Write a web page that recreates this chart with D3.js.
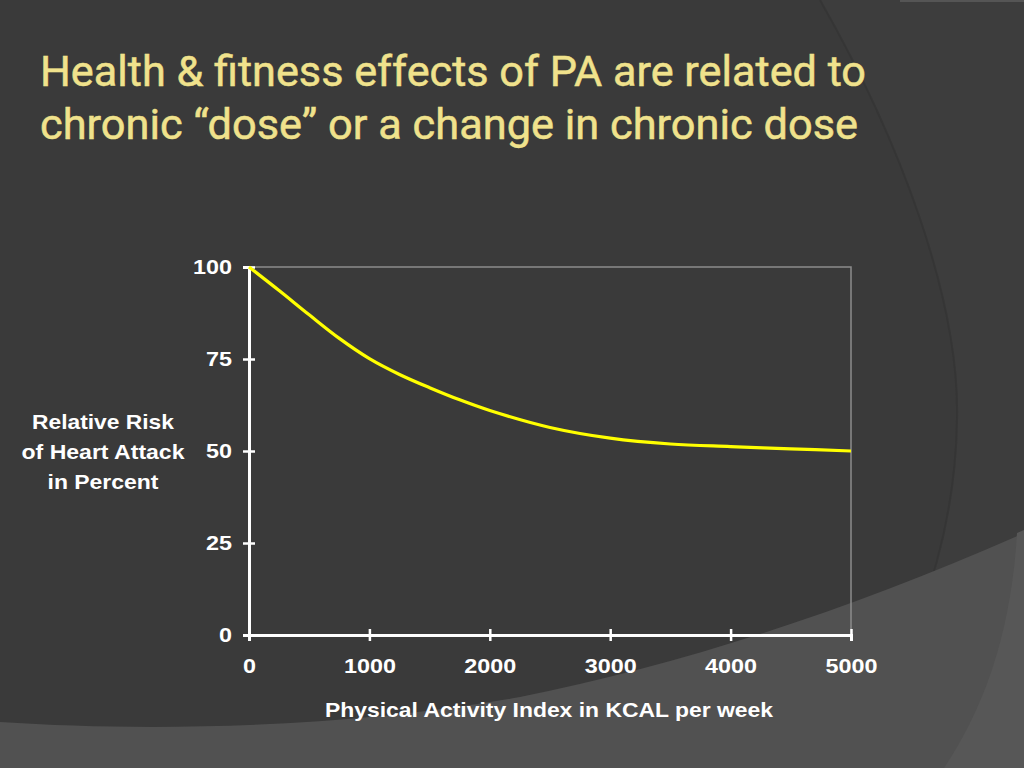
<!DOCTYPE html>
<html><head><meta charset="utf-8">
<script src="https://cdn.jsdelivr.net/npm/d3@7"></script>
<style>html,body{margin:0;padding:0;background:#3a3a3a;overflow:hidden}</style>
</head><body>
<svg id="c" width="1024" height="768"></svg>
<script>
const titleLines = ["Health & fitness effects of PA are related to", "chronic \u201cdose\u201d or a change in chronic dose"];
const yTitleLines = ["Relative Risk", "of Heart Attack", "in Percent"];
const xTitle = "Physical Activity Index in KCAL per week";
const kcal = [0, 250, 500, 750, 1000, 1250, 1500, 1750, 2000, 2500, 3000, 3500, 4000, 4500, 5000];
const risk = [100, 93.6, 87.0, 80.6, 75.1, 70.8, 67.2, 63.9, 61.0, 56.4, 53.5, 51.9, 51.2, 50.6, 50];
const xTicks = [0, 1000, 2000, 3000, 4000, 5000];
const yTicks = [0, 25, 50, 75, 100];

const svg = d3.select("#c");
// background decoration
svg.append("rect").attr("width",1024).attr("height",768).attr("fill","#3a3a3a");
svg.append("path").attr("d","M820,0 C900,140 960,300 957,420 C955,560 900,680 840,768 L1024,768 L1024,0 Z").attr("fill","#3d3d3d");
svg.append("path").attr("d","M820,0 C900,140 960,300 957,420 C955,560 900,680 840,768").attr("fill","none").attr("stroke","#333").attr("stroke-width",2).attr("opacity",0.7);
svg.append("path").attr("d","M0,722 C150,732 350,728 520,697 C680,665 850,610 1024,533 L1024,768 L0,768 Z").attr("fill","#515151");
svg.append("path").attr("d","M944,768 C990,700 1012,620 1017,533 L1024,530 L1024,768 Z").attr("fill","#575757");
svg.append("line").attr("x1",900).attr("x2",1024).attr("y1",1).attr("y2",1).attr("stroke","#555").attr("stroke-width",2);

// title
const title = svg.append("g");
titleLines.forEach((t,i)=>{
  title.append("text").attr("x",40).attr("y",86+i*53)
    .attr("font-family","Roboto, 'Liberation Sans', Arial, sans-serif").attr("font-size",43).attr("font-weight",400)
    .attr("fill","#f0e28c").attr("stroke","#f0e28c").attr("stroke-width",0.5)
    .attr("textLength", i===0?826:818).attr("lengthAdjust","spacingAndGlyphs")
    .text(t);
});

const x = d3.scaleLinear().domain([0,5000]).range([249,851]);
const y = d3.scaleLinear().domain([0,100]).range([635,267]);

// plot frame top/right
svg.append("path").attr("d",`M${x(0)},${y(100)}H${x(5000)}V${y(0)}`).attr("fill","none").attr("stroke","#8c8c8c").attr("stroke-width",1.5);

const font = "'Liberation Sans', Arial, sans-serif";
const xAxis = svg.append("g").attr("transform",`translate(0,${y(0)})`)
  .call(d3.axisBottom(x).tickValues(xTicks).tickSize(6).tickPadding(17).tickFormat(d3.format("d")));
const yAxis = svg.append("g").attr("transform",`translate(${x(0)},0)`)
  .call(d3.axisLeft(y).tickValues(yTicks).tickSize(6).tickPadding(11).tickFormat(d3.format("d")));
[xAxis,yAxis].forEach(a=>{
  a.select(".domain").attr("stroke","#fff").attr("stroke-width",3);
  a.selectAll(".tick line").attr("stroke","#fff").attr("stroke-width",2.5);
  a.selectAll(".tick text").attr("fill","#fff").attr("font-family",font).attr("font-weight","bold").attr("font-size",21)
    .attr("textLength",function(){return this.textContent.length*13;}).attr("lengthAdjust","spacingAndGlyphs");
});
xAxis.selectAll(".tick line").attr("y1",-6).attr("y2",6);
yAxis.selectAll(".tick line").attr("x1",6).attr("x2",-6);
xAxis.selectAll(".tick text").attr("dy","0.71em");

// curve
const data = kcal.map((k,i)=>({k, r:risk[i]}));
svg.append("path").datum(data).attr("fill","none").attr("stroke","#ffff00").attr("stroke-width",3.2)
  .attr("d", d3.line().x(d=>x(d.k)).y(d=>y(d.r)).curve(d3.curveCatmullRom.alpha(0.5)));

// axis titles
svg.append("text").attr("x",325).attr("y",717).attr("fill","#fff")
  .attr("font-family",font).attr("font-weight","bold").attr("font-size",21)
  .attr("textLength",448).attr("lengthAdjust","spacingAndGlyphs").text(xTitle);
const yLens = [142, 163, 111];
yTitleLines.forEach((t,i)=>{
  svg.append("text").attr("x",103 - yLens[i]/2).attr("y",429+i*30).attr("fill","#fff")
    .attr("font-family",font).attr("font-weight","bold").attr("font-size",21)
    .attr("textLength",yLens[i]).attr("lengthAdjust","spacingAndGlyphs").text(t);
});
</script>
</body></html>
